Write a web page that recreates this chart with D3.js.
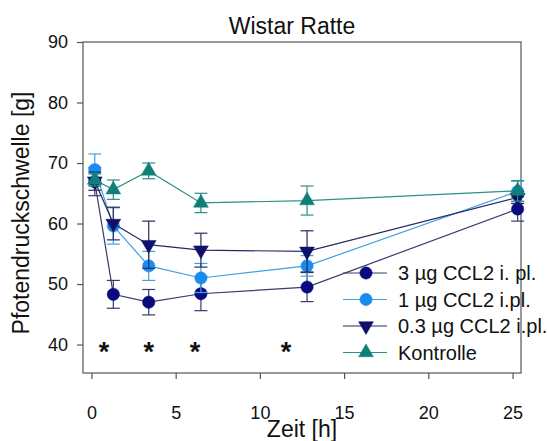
<!DOCTYPE html>
<html>
<head>
<meta charset="utf-8">
<script src="https://cdn.jsdelivr.net/npm/d3@7"></script>
<style>
  body { margin: 0; background: #fff; }
  svg { display: block; font-family: "Liberation Sans", Arial, sans-serif; }
</style>
</head>
<body>
<div id="chart"></div>
<script>
// time points as they sit on the x axis (h)
const times = [0.2, 1.3, 3.4, 6.5, 12.8, 25.3];

const seriesNames = ["3 µg CCL2 i. pl.", "1 µg CCL2 i.pl.", "0.3 µg CCL2 i.pl.", "Kontrolle"];

// mean paw pressure threshold [g]
const mean3ug = [66.9, 48.3, 47.0, 48.4, 49.5, 62.4];
const mean1ug = [68.9, 59.6, 53.0, 51.0, 53.0, 65.3];
const mean03ug = [67.0, 60.0, 56.5, 55.6, 55.4, 64.3];
const meanKontrolle = [67.2, 65.6, 68.7, 63.4, 63.8, 65.4];

// error bar half widths [g]
const err3ug = [2.3, 2.3, 2.1, 2.8, 2.4, 2.0];
const err1ug = [2.6, 3.0, 2.4, 2.4, 1.7, 1.7];
const err03ug = [1.5, 2.7, 3.9, 2.8, 3.4, 1.0];
const errKontrolle = [1.0, 1.6, 1.3, 1.6, 2.4, 1.7];

// significance marks
const starTimes = [0.75, 3.4, 6.15, 11.55];
const starLevel = 40;

const xTicks = [0, 5, 10, 15, 20, 25];
const yTicks = [40, 50, 60, 70, 80, 90];

(function () {
  "use strict";

  const W = 547, H = 441;
  let margin = { top: 42, bottom: 68, left: 83, right: 26 };
  const width = W - margin.left - margin.right;
  const height = H - margin.top - margin.bottom;

  const series = [
    { name: seriesNames[0], mean: mean3ug, err: err3ug, shape: "circle",
      fill: "#0a0a80", line: "#3a3a6e", bar: "#3a3a6e" },
    { name: seriesNames[1], mean: mean1ug, err: err1ug, shape: "circle",
      fill: "#1a8cf0", line: "#42a0e0", bar: "#42a0e0" },
    { name: seriesNames[2], mean: mean03ug, err: err03ug, shape: "down",
      fill: "#10106a", line: "#2a2a5e", bar: "#2a2a5e" },
    { name: seriesNames[3], mean: meanKontrolle, err: errKontrolle, shape: "up",
      fill: "#0f8078", line: "#2a9088", bar: "#2a9088" }
  ];

  const svg = d3.select("#chart").append("svg")
    .attr("width", W)
    .attr("height", H);

  const x = d3.scaleLinear().domain([-0.5, 25.5]).range([0, width]);
  const y = d3.scaleLinear().domain([35.3, 90]).range([height, 0]);

  const g = svg.append("g")
    .attr("transform", "translate(" + margin.left + "," + margin.top + ")");

  // frame
  g.append("rect")
    .attr("width", width)
    .attr("height", height)
    .attr("fill", "none")
    .attr("stroke", "#555")
    .attr("stroke-width", 1.2);

  const xAxis = g.append("g")
    .attr("transform", "translate(0," + height + ")")
    .call(d3.axisBottom(x).tickValues(xTicks).tickSize(6).tickPadding(27).tickSizeOuter(0));
  xAxis.select(".domain").remove();

  const yAxis = g.append("g")
    .call(d3.axisLeft(y).tickValues(yTicks).tickSize(6).tickPadding(9).tickSizeOuter(0));
  yAxis.select(".domain").remove();

  svg.selectAll(".tick line").attr("stroke", "#555").attr("stroke-width", 1.2);
  svg.selectAll(".tick text")
    .attr("fill", "#111")
    .style("font-size", "18px")
    .style("font-family", "'Liberation Sans', Arial, sans-serif");

  // titles
  svg.append("text")
    .attr("x", 292).attr("y", 34)
    .attr("text-anchor", "middle")
    .style("font-size", "23px")
    .attr("fill", "#111")
    .text("Wistar Ratte");

  svg.append("text")
    .attr("x", margin.left + width / 2).attr("y", 437)
    .attr("text-anchor", "middle")
    .style("font-size", "23px")
    .attr("fill", "#111")
    .text("Zeit [h]");

  svg.append("text")
    .attr("transform", "translate(29," + 213 + ") rotate(-90)")
    .attr("text-anchor", "middle")
    .style("font-size", "23px")
    .attr("fill", "#111")
    .text("Pfotendruckschwelle [g]");

  const line = d3.line()
    .x(function (d) { return x(d.t); })
    .y(function (d) { return y(d.v); });

  function symbolPath(shape) {
    if (shape === "circle") return d3.symbol().type(d3.symbolCircle).size(120)();
    return d3.symbol().type(d3.symbolTriangle).size(95)();
  }

  function drawMarker(sel, s) {
    sel.append("path")
      .attr("d", symbolPath(s.shape))
      .attr("transform", s.shape === "down" ? "rotate(180)" : null)
      .attr("fill", s.fill)
      .attr("stroke", s.fill)
      .attr("stroke-width", 0.5);
  }

  series.forEach(function (s) {
    const pts = times.map(function (t, i) {
      return { t: t, v: s.mean[i], e: s.err[i] };
    });
    const sg = g.append("g");

    sg.append("path")
      .datum(pts)
      .attr("d", line)
      .attr("fill", "none")
      .attr("stroke", s.line)
      .attr("stroke-width", 1.2);

    // error bars
    const eb = sg.selectAll(".eb")
      .data(pts)
      .join("g")
      .attr("stroke", s.bar)
      .attr("stroke-width", 1.2);
    eb.append("line")
      .attr("x1", function (d) { return x(d.t); })
      .attr("x2", function (d) { return x(d.t); })
      .attr("y1", function (d) { return y(d.v - d.e); })
      .attr("y2", function (d) { return y(d.v + d.e); });
    eb.append("line")
      .attr("x1", function (d) { return x(d.t) - 6.5; })
      .attr("x2", function (d) { return x(d.t) + 6.5; })
      .attr("y1", function (d) { return y(d.v + d.e); })
      .attr("y2", function (d) { return y(d.v + d.e); });
    eb.append("line")
      .attr("x1", function (d) { return x(d.t) - 6.5; })
      .attr("x2", function (d) { return x(d.t) + 6.5; })
      .attr("y1", function (d) { return y(d.v - d.e); })
      .attr("y2", function (d) { return y(d.v - d.e); });

    sg.selectAll(".pt")
      .data(pts)
      .join("g")
      .attr("transform", function (d) {
        return "translate(" + x(d.t) + "," + y(d.v) + ")";
      })
      .each(function () { drawMarker(d3.select(this), s); });
  });

  // asterisks
  g.selectAll(".star")
    .data(starTimes)
    .join("text")
    .attr("x", function (d) { return x(d); })
    .attr("y", y(starLevel) + 16)
    .attr("text-anchor", "middle")
    .style("font-size", "27px")
    .style("font-weight", "bold")
    .attr("fill", "#111")
    .text("*");

  // legend
  const legend = svg.append("g");
  const rowY = [273, 299.5, 326, 352.5];
  series.forEach(function (s, i) {
    const row = legend.append("g").attr("transform", "translate(0," + rowY[i] + ")");
    row.append("line")
      .attr("x1", 343).attr("x2", 387)
      .attr("stroke", s.line)
      .attr("stroke-width", 1.2);
    const m = row.append("g").attr("transform", "translate(366,0)");
    drawMarker(m, s);
    row.append("text")
      .attr("x", 398).attr("y", 7)
      .style("font-size", "20px")
      .attr("fill", "#111")
      .text(s.name);
  });
})();
</script>
</body>
</html>
